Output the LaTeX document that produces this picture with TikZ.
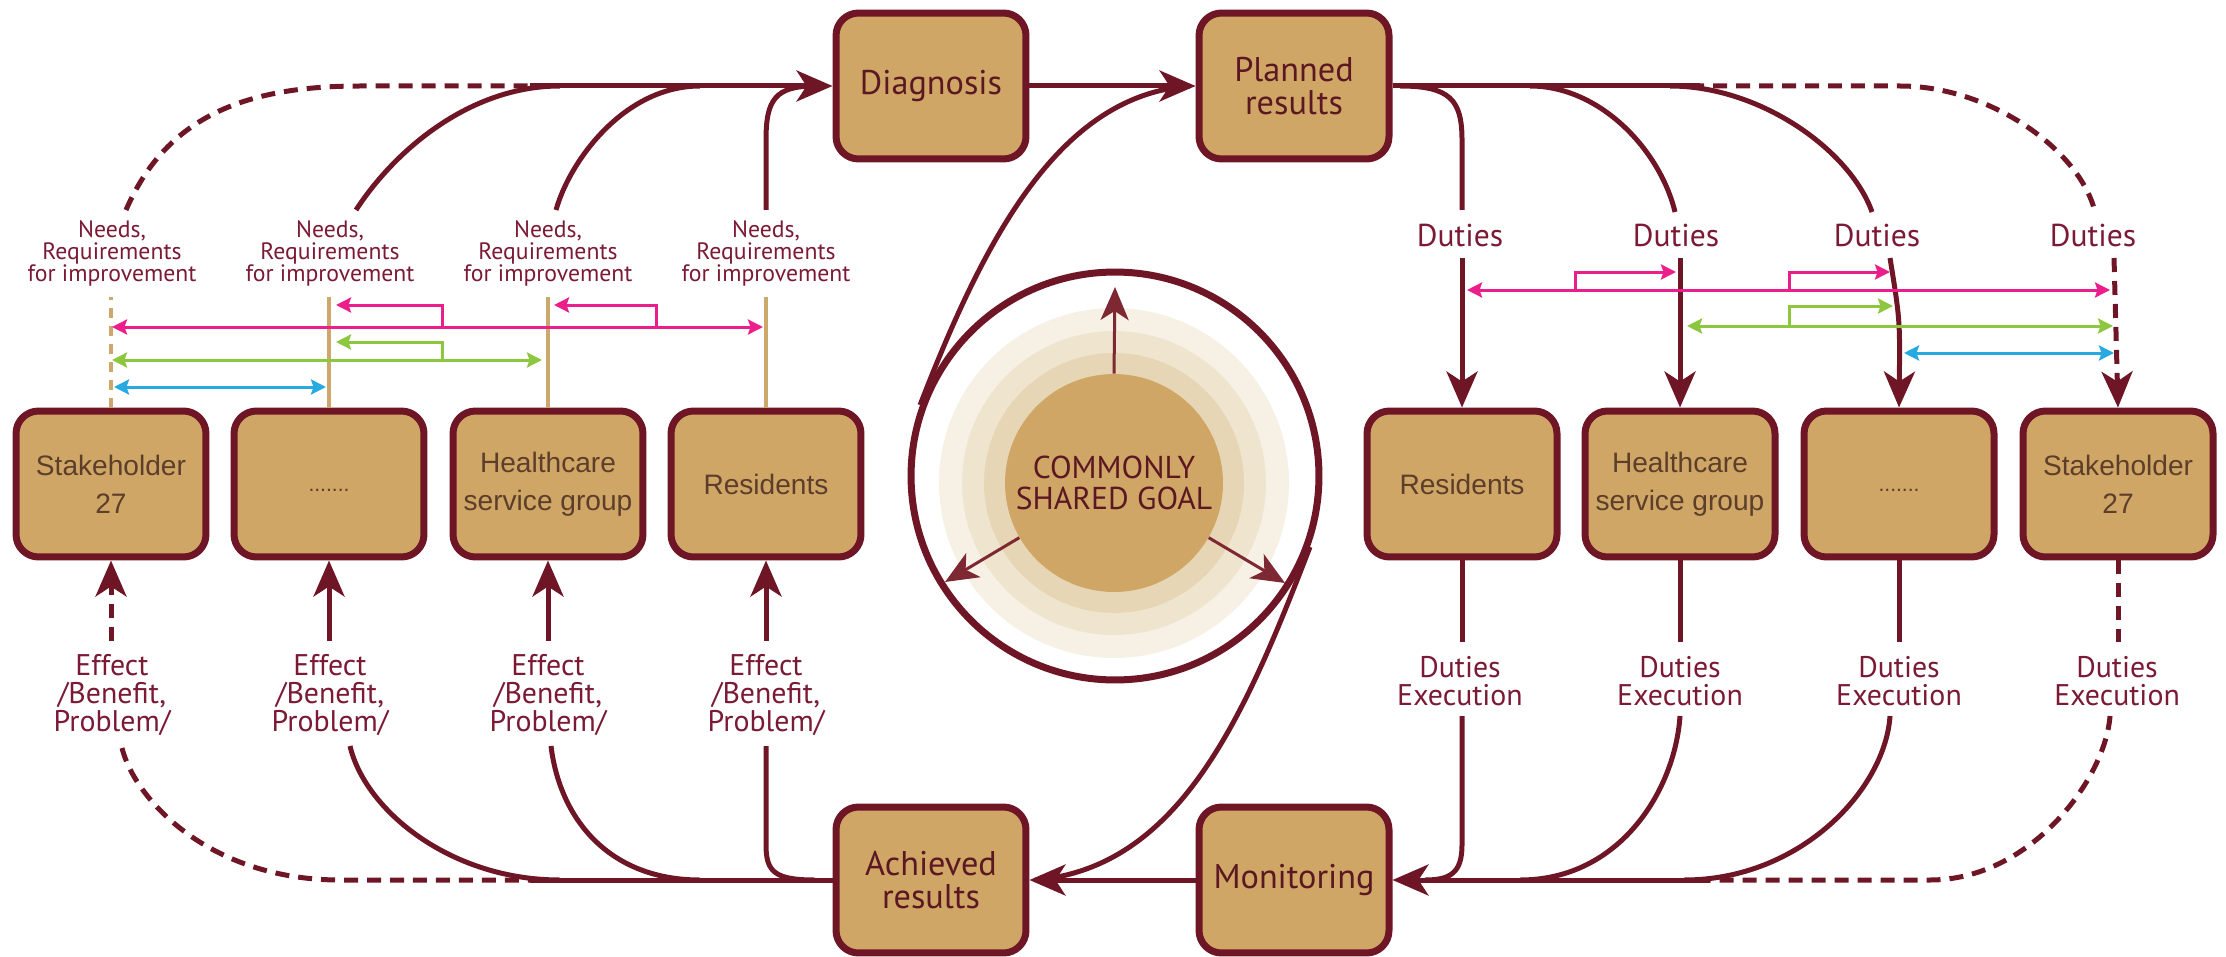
\documentclass[tikz,border=0pt]{standalone}
\usepackage{fontspec}
\setmainfont{PT Sans}
\newfontfamily\robo{Liberation Sans}
\usetikzlibrary{arrows.meta}
\definecolor{mar}{RGB}{110,22,38}
\definecolor{tanf}{RGB}{207,166,101}
\definecolor{tanl}{RGB}{205,168,108}
\definecolor{stxt}{RGB}{92,62,42}
\definecolor{mtxt}{RGB}{92,24,34}
\definecolor{lbl}{RGB}{122,26,52}
\definecolor{pinkc}{RGB}{236,30,140}
\definecolor{greenc}{RGB}{141,198,63}
\definecolor{bluec}{RGB}{39,170,225}
\definecolor{gA}{RGB}{246,240,229}
\definecolor{gB}{RGB}{239,228,206}
\definecolor{gC}{RGB}{231,214,181}
\definecolor{tanc}{RGB}{207,166,101}
\definecolor{car}{RGB}{125,40,50}
\begin{document}
\begin{tikzpicture}[x=0.02cm,y=-0.02cm,
  bigtip/.tip={Stealth[length=0.72cm,width=0.62cm,inset=0.2cm]},
  ctip/.tip={Stealth[length=0.3cm,width=0.3cm,inset=0.05cm]},
  midtip/.tip={Stealth[length=0.66cm,width=0.56cm,inset=0.18cm]},
  tbox/.style={draw=mar, line width=0.14cm, fill=tanf, rounded corners=0.45cm,
    minimum width=3.8cm, minimum height=2.92cm, inner sep=0pt, align=center},
  mainbox/.style={tbox, text=mtxt, font=\fontsize{19.5}{19}\selectfont},
  sbox/.style={tbox, text=stxt, font=\robo\fontsize{16}{21.5}\selectfont},
  ml/.style={draw=mar, line width=0.1cm},
  mld/.style={ml, dash pattern=on 0.28cm off 0.18cm},
  tanline/.style={draw=tanl, line width=0.08cm},
  cline/.style={line width=0.06cm},
  needs/.style={text=lbl, align=center, font=\fontsize{13.5}{12.5}\selectfont, inner sep=0pt},
  effl/.style={text=lbl, align=center, font=\fontsize{17}{16}\selectfont, inner sep=0pt},
  dutl/.style={text=lbl, align=center, font=\fontsize{18}{16}\selectfont, inner sep=0pt},
  dexl/.style={text=lbl, align=center, font=\fontsize{17}{15.5}\selectfont, inner sep=0pt},
  carrow/.style={draw=car, line width=0.06cm, -midtip}
]
\useasboundingbox (0,0) rectangle (2226,956);

% ---------- central goal ----------
\fill[gA] (1114,483) circle (3.5cm);
\fill[gB] (1114,483) circle (3.04cm);
\fill[gC] (1114,483) circle (2.6cm);
\node[circle, fill=tanc, minimum size=4.36cm, inner sep=0pt, text=mtxt, align=center,
  font=\fontsize{18}{17.5}\selectfont] (goal) at (1114,483) {COMMONLY\\SHARED GOAL};
\node[circle, draw=mar, line width=0.14cm, minimum size=8.16cm, inner sep=0pt] (ring) at (1115,476) {};
\draw[carrow] (goal.north) -- (1115,287);
\draw[carrow] (goal.210) -- (945,582);
\draw[carrow] (goal.330) -- (1285,583);

% ---------- main boxes ----------
\node[mainbox] (diag) at (931,86) {Diagnosis};
\node[mainbox] (plan) at (1294,86) {Planned\\results};
\node[mainbox] (ach) at (931,880) {Achieved\\results};
\node[mainbox] (mon) at (1294,880) {Monitoring};

% spiral
\draw[ml] (ring.160) .. controls (985,237) and (1060,95) .. (1190,86);
\draw[ml] (ring.-20) .. controls (1245,716) and (1180,868) .. (1035,880);

\draw[ml,-bigtip] (diag.east) -- (plan.west);
\draw[ml,-bigtip] (mon.west) -- (ach.east);

% ---------- stakeholder boxes ----------
\node[sbox] (l4) at (111,484) {Stakeholder\\27};
\node[sbox] (l3) at (329,484) {};
\node[text=stxt, font=\robo\fontsize{12}{12}\selectfont] (l3d) at (329,490) {.......};
\node[sbox] (l2) at (548,484) {Healthcare\\service group};
\node[sbox] (l1) at (766,484) {Residents};

\node[sbox] (r1) at (1462,484) {Residents};
\node[sbox] (r2) at (1680,484) {Healthcare\\service group};
\node[sbox] (r3) at (1899,484) {};
\node[text=stxt, font=\robo\fontsize{12}{12}\selectfont] (r3d) at (1899,490) {.......};
\node[sbox] (r4) at (2118,484) {Stakeholder\\27};

% ---------- labels ----------
\node[needs] (nd1) at (112,253) {Needs,\\Requirements\\for improvement};
\node[needs] (nd2) at (330,253) {Needs,\\Requirements\\for improvement};
\node[needs] (nd3) at (548,253) {Needs,\\Requirements\\for improvement};
\node[needs] (nd4) at (766,253) {Needs,\\Requirements\\for improvement};

\node[effl] (ef1) at (112,695) {Effect\\/Benefit,\\Problem/};
\node[effl] (ef2) at (330,695) {Effect\\/Benefit,\\Problem/};
\node[effl] (ef3) at (548,695) {Effect\\/Benefit,\\Problem/};
\node[effl] (ef4) at (766,695) {Effect\\/Benefit,\\Problem/};

\node[dutl] (du1) at (1460,235) {Duties};
\node[dutl] (du2) at (1676,235) {Duties};
\node[dutl] (du3) at (1877,235) {Duties};
\node[dutl] (du4) at (2093,235) {Duties};

\node[dexl] (de1) at (1460,681) {Duties\\Execution};
\node[dexl] (de2) at (1680,681) {Duties\\Execution};
\node[dexl] (de3) at (1899,681) {Duties\\Execution};
\node[dexl] (de4) at (2117,681) {Duties\\Execution};

% ---------- top-left flows ----------
\coordinate (tj) at (530,86);
\draw[mld] (126,210) .. controls (165,120) and (240,86) .. (360,86) -- (tj);
\draw[ml] (356,210) .. controls (395,150) and (470,86) .. (560,86);
\draw[ml] (556,210) .. controls (570,160) and (625,86) .. (700,86);
\draw[ml] (766,210) -- (766,140) .. controls (766,100) and (775,86) .. (815,86);
\draw[ml,-bigtip] (tj) -- (diag.west);

% tan lines
\draw[tanline, dash pattern=on 0.2cm off 0.16cm] (l4.north) -- ++(0,-111);
\draw[tanline] (l3.north) -- ++(0,-111);
\draw[tanline] (l2.north) -- ++(0,-111);
\draw[tanline] (l1.north) -- ++(0,-111);

% ---------- bottom-left flows ----------
\coordinate (bj) at (530,880);
\draw[ml] (ach.west) -- (bj);
\draw[mld] (122,748) .. controls (135,800) and (210,880) .. (340,880) -- (bj);
\draw[ml] (350,746) .. controls (365,810) and (450,880) .. (560,880);
\draw[ml] (551,746) .. controls (560,820) and (610,880) .. (700,880);
\draw[ml] (766,746) -- (766,845) .. controls (766,872) and (775,880) .. (815,880);

\draw[mld,-bigtip] (111,641) -- (l4.south);
\draw[ml,-bigtip] (329,641) -- (l3.south);
\draw[ml,-bigtip] (548,641) -- (l2.south);
\draw[ml,-bigtip] (766,641) -- (l1.south);

% ---------- top-right flows ----------
\coordinate (rj) at (1700,86);
\draw[ml] (plan.east) -- (rj);
\draw[mld] (1690,86) -- (1900,86) .. controls (1990,86) and (2080,150) .. (2095,212);
\draw[ml] (1400,86) .. controls (1450,86) and (1462,100) .. (1462,140) -- (1462,210);
\draw[ml] (1530,86) .. controls (1600,86) and (1660,150) .. (1675,212);
\draw[ml] (1670,86) .. controls (1760,86) and (1850,150) .. (1872,212);

\draw[ml,-bigtip] (1462,258) -- (r1.north);
\draw[ml,-bigtip] (1680,258) -- (r2.north);
\draw[ml,-bigtip] (1890,258) .. controls (1900,320) .. (r3.north);
\draw[mld,-bigtip] (2114,258) -- (r4.north);

% ---------- bottom-right flows ----------
\draw[ml] (r1.south) -- ++(0,82);
\draw[ml] (r2.south) -- ++(0,82);
\draw[ml] (r3.south) -- ++(0,82);
\draw[mld] (r4.south) -- ++(0,82);
\coordinate (mj) at (1710,880);
\draw[ml] (1462,716) -- (1462,845) .. controls (1462,873) and (1450,880) .. (1425,880);
\draw[ml] (1680,716) .. controls (1675,790) and (1620,880) .. (1520,880);
\draw[ml] (1890,716) .. controls (1885,790) and (1800,880) .. (1684,880);
\draw[mld] (2110,716) .. controls (2105,780) and (2030,880) .. (1930,880) -- (1700,880);
\draw[ml,-bigtip] (mj) -- (mon.east);

% ---------- coloured arrows left ----------
\draw[cline, pinkc, arrows={ctip-ctip}] (112,327) -- (763,327);
\draw[cline, pinkc, -ctip] (442,327) |- (336,305);
\draw[cline, pinkc, -ctip] (656,327) |- (554,305);
\draw[cline, greenc, arrows={ctip-ctip}] (112,360) -- (542,360);
\draw[cline, greenc, -ctip] (442,360) |- (336,342);
\draw[cline, bluec, arrows={ctip-ctip}] (114,387) -- (326,387);

% ---------- coloured arrows right ----------
\draw[cline, pinkc, arrows={ctip-ctip}] (1467,290) -- (2110,290);
\draw[cline, pinkc, -ctip] (1575,290) |- (1676,272);
\draw[cline, pinkc, -ctip] (1789,290) |- (1890,272);
\draw[cline, greenc, arrows={ctip-ctip}] (1687,326) -- (2113,326);
\draw[cline, greenc, -ctip] (1789,326) |- (1893,306);
\draw[cline, bluec, arrows={ctip-ctip}] (1904,353) -- (2114,353);
\end{tikzpicture}
\end{document}
